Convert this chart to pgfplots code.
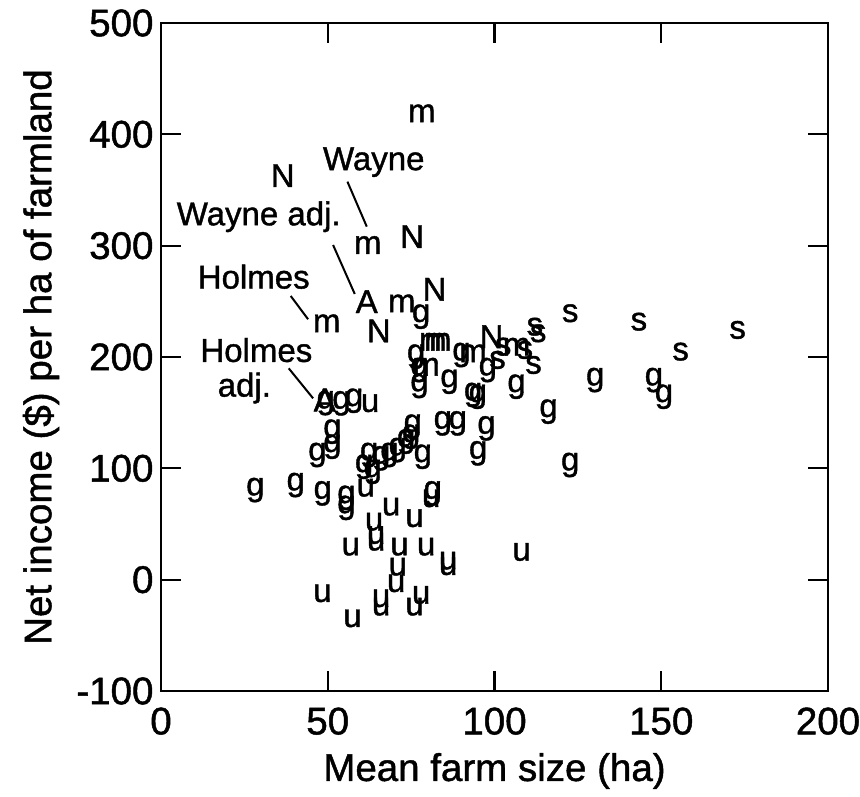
\documentclass[border=0pt]{standalone}
\usepackage{fontspec}
\setmainfont{Liberation Sans}[FakeBold=1.2]
\newfontfamily\mkfont{Liberation Sans}[FakeBold=1.2]
\usepackage{pgfplots}
\pgfplotsset{compat=1.18}
\newcommand\mk{\mkfont\fontsize{33}{39}\selectfont}
\newcommand\lb{\mkfont\fontsize{38.5}{46}\selectfont}
\begin{document}
\begin{tikzpicture}
\begin{axis}[
  scale only axis, width=667pt, height=668pt,
  xmin=0, xmax=200, ymin=-100, ymax=500,
  xtick={0,50,100,150,200}, ytick={-100,0,100,200,300,400,500},
  tick align=inside, major tick length=20pt,
  axis line style={line width=2.2pt},
  every tick/.style={line width=2.2pt, black},
  /pgf/number format/assume math mode=true,
  tick label style={font=\lb},
  xticklabel style={yshift=-13pt},
  yticklabel style={xshift=-4pt},
  xlabel={Mean farm size (ha)},
  ylabel={Net income (\$) per ha of farmland},
  every axis x label/.style={at={(axis description cs:0.5,0)}, anchor=center, yshift=-80pt, font=\lb},
  every axis y label/.style={at={(axis description cs:0,0.5)}, anchor=center, xshift=-120pt, rotate=90, font=\lb},
  clip=false,
]
% m
\addplot[black, only marks, mark=text, text mark={m}, text mark as node=true, text mark style={font=\mk, inner sep=0pt}] table {
x y
78.2 418.9
62.0 300.6
72.2 248.2
49.7 230.3
81.5 213.7
83.0 213.7
93.6 203.3
106.6 209.3
79.5 191.3
};
% N
\addplot[black, only marks, mark=text, text mark={N}, text mark as node=true, text mark style={font=\mk, inner sep=0pt}] table {
x y
36.5 362.9
75.3 308.1
82.0 260.8
65.3 223.4
99.1 218.2
};
% A
\addplot[black, only marks, mark=text, text mark={A}, text mark as node=true, text mark style={font=\mk, inner sep=0pt}] table {
x y
61.7 249.7
49.1 161.4
};
% s
\addplot[black, only marks, mark=text, text mark={s}, text mark as node=true, text mark style={font=\mk, inner sep=0pt}] table {
x y
102.6 209.3
100.9 197.3
109.1 206.3
111.7 192.8
112.1 227.2
113.1 221.3
122.7 239.3
143.3 231.7
172.9 224.3
155.8 204.8
};
% g
\addplot[black, only marks, mark=text, text mark={g}, text mark as node=true, text mark style={font=\mk, inner sep=0pt}] table {
x y
78.0 236.2
76.5 200.3
77.5 188.3
90.1 201.8
98.0 188.3
77.5 174.0
86.5 177.8
93.6 165.9
95.0 164.3
106.6 173.3
116.2 150.9
130.2 179.3
147.8 179.3
150.8 164.3
122.7 103.0
97.6 135.9
95.1 113.5
84.5 140.4
89.0 140.4
78.5 110.4
75.5 137.4
75.0 128.4
73.5 123.9
71.0 116.4
68.5 112.0
66.0 109.0
62.4 112.0
60.9 101.4
63.5 96.9
49.4 158.6
54.1 158.4
57.9 160.7
51.4 132.9
51.4 119.4
46.9 112.0
28.3 80.5
40.4 85.0
48.5 77.5
55.6 73.5
55.6 64.5
81.5 77.5
};
% u
\addplot[black, only marks, mark=text, text mark={u}, text mark as node=true, text mark style={font=\mk, inner sep=0pt}] table {
x y
62.7 158.4
61.4 82.5
81.0 73.0
69.0 65.5
76.0 55.1
63.9 52.0
64.5 40.0
64.5 34.0
56.9 29.6
71.5 29.6
79.5 29.6
86.1 17.0
86.1 12.0
71.0 11.6
70.5 -3.3
48.4 -12.3
66.0 -16.8
66.0 -24.3
78.0 -13.8
76.0 -24.3
57.4 -34.8
108.1 24.8
};
% annotations
\node[font=\mk, inner sep=0pt] at (axis cs:63.8,375.0) {Wayne};
\node[font=\mk, inner sep=0pt] at (axis cs:29.3,326.0) {Wayne adj.};
\node[font=\mk, inner sep=0pt] at (axis cs:27.8,272.1) {Holmes};
\node[font=\mk, inner sep=0pt] at (axis cs:28.6,206.2) {Holmes};
\node[font=\mk, inner sep=0pt] at (axis cs:25.0,172.1) {adj.};
\draw[line width=2pt] (axis cs:55.9,357.5) -- (axis cs:61.7,317.1);
\draw[line width=2pt] (axis cs:51.6,300.6) -- (axis cs:58.1,256.6);
\draw[line width=2pt] (axis cs:38.9,254.8) -- (axis cs:44.1,233.9);
\draw[line width=2pt] (axis cs:38.3,189.8) -- (axis cs:45.6,162.9);
\end{axis}
\pgfresetboundingbox
\path ([shift={(-161pt,-106pt)}]current axis.south west) rectangle ([shift={(32pt,23pt)}]current axis.north east);
\end{tikzpicture}
\end{document}
